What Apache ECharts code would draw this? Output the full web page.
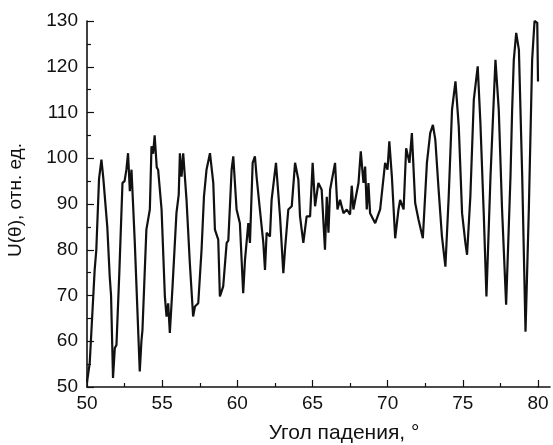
<!DOCTYPE html>
<html>
<head>
<meta charset="utf-8">
<script src="https://cdn.jsdelivr.net/npm/echarts@6/dist/echarts.min.js"></script>
<style>
  html, body { margin: 0; padding: 0; background: #fff; }
  #chart { width: 553px; height: 445px; }
</style>
</head>
<body>
<div id="chart"></div>
<script>
// Angle of incidence, degrees
const angle = [
  50.00, 50.18, 50.51, 50.62, 50.80, 50.96, 51.08, 51.18, 51.35, 51.51, 51.60, 51.73, 51.85, 51.96,
  52.15, 52.36, 52.50, 52.62, 52.73, 52.85, 52.96, 53.05, 53.18, 53.51, 53.62, 53.69, 53.95, 54.18,
  54.29, 54.40, 54.50, 54.58, 54.64, 54.73, 54.96, 55.18, 55.29, 55.40, 55.51, 55.69, 55.95, 56.10,
  56.18, 56.29, 56.40, 56.51, 56.62, 56.84, 57.06, 57.18, 57.40, 57.62, 57.78, 57.95, 58.18, 58.40,
  58.51, 58.73, 58.84, 59.06, 59.29, 59.40, 59.62, 59.73,
  59.95, 60.17, 60.39, 60.51, 60.73, 60.84, 61.02, 61.17, 61.28, 61.50, 61.73, 61.84, 61.95, 62.17,
  62.28, 62.57, 62.84, 63.06, 63.17, 63.39, 63.62, 63.84, 64.06, 64.17, 64.39, 64.61, 64.84, 65.01,
  65.17, 65.39, 65.61, 65.83, 65.95, 66.06, 66.17, 66.50, 66.66, 66.83, 67.06, 67.28, 67.50, 67.61,
  67.72, 68.06, 68.21, 68.39, 68.50, 68.61, 68.72, 68.83, 69.17, 69.50, 69.83,
  69.99, 70.11, 70.28, 70.50, 70.72, 70.83, 71.06, 71.23, 71.45, 71.61, 71.83, 72.05, 72.34, 72.61,
  72.83, 73.01, 73.17, 73.39, 73.61, 73.84, 74.06, 74.28, 74.51, 74.73, 74.95, 75.17, 75.28, 75.50,
  75.73, 75.99, 76.17, 76.39, 76.57, 76.84, 77.17, 77.39, 77.61, 77.88, 78.17, 78.28, 78.39, 78.55,
  78.73, 78.95, 79.17, 79.39, 79.61, 79.77, 79.95, 80.00
];

// Signal U(θ), relative units
const signal = [
  51.0, 55.2, 75.6, 80.0, 95.5, 99.7, 95.8, 95.7, 85.0, 74.2, 70.0, 52.0, 58.5, 59.2,
  75.0, 94.6, 95.0, 97.5, 101.1, 92.8, 97.5, 91.0, 81.5, 53.4, 60.0, 62.5, 84.4, 88.8,
  102.6, 101.0, 105.0, 104.8, 98.0, 97.5, 88.8, 69.8, 65.4, 68.3, 61.8, 72.0, 88.0, 92.0,
  101.1, 96.0, 101.1, 96.0, 90.9, 77.1, 65.4, 67.6, 68.3, 80.0, 91.6, 97.5, 101.1, 94.6,
  84.4, 82.2, 69.8, 72.0, 81.5, 82.0, 97.5, 100.4,
  88.8, 85.8, 70.5, 77.8, 85.8, 81.5, 99.0, 100.4, 96.0, 88.8, 81.5, 75.6, 83.7, 82.9,
  90.9, 99.0, 87.3, 74.9, 80.0, 88.8, 89.5, 99.0, 95.3, 87.3, 81.5, 87.3, 87.3, 99.0,
  89.5, 94.6, 93.1, 80.0, 91.6, 83.7, 93.1, 99.0, 88.8, 90.9, 88.0, 88.8, 87.7, 94.0,
  88.8, 94.6, 101.5, 94.6, 98.2, 88.8, 94.6, 88.0, 85.8, 88.8, 99.0,
  97.5, 103.7, 96.0, 82.5, 88.8, 90.9, 88.8, 102.2, 99.0, 105.5, 90.2, 86.6, 82.5, 99.0,
  105.5, 107.3, 104.0, 93.1, 82.9, 76.3, 91.6, 110.6, 116.8, 106.9, 88.0, 81.5, 78.9, 91.6,
  112.8, 120.1, 107.6, 88.0, 69.8, 96.0, 121.5, 110.6, 88.8, 68.0, 96.0, 110.6, 121.5, 127.4,
  123.7, 96.0, 62.1, 88.8, 121.5, 130.0, 129.6, 116.8
];

// Axis ticks
const xTicks = { min: 50, max: 80, step: 5 };
const yTicks = { min: 50, max: 130, step: 10 };

const xLabel = 'Угол падения, °';
const yLabel = 'U(θ), отн. ед.';

const font = 'Liberation Sans, Arial, sans-serif';
const ink = '#111111';

const chart = echarts.init(document.getElementById('chart'), null, { renderer: 'canvas' });

chart.setOption({
  animation: false,
  backgroundColor: '#ffffff',
  grid: [
    { left: 87, right: 15, top: 21, bottom: 58, containLabel: false, outerBoundsMode: 'none' },
    // short tail of the bottom axis line past the last tick
    { left: 538, right: 3, top: 21, bottom: 58, containLabel: false, outerBoundsMode: 'none' }
  ],
  xAxis: [
    {
      type: 'value',
      gridIndex: 0,
      min: xTicks.min,
      max: xTicks.max,
      interval: xTicks.step,
      name: xLabel,
      nameLocation: 'middle',
      nameGap: 36,
      nameTextStyle: { fontFamily: font, fontSize: 21, color: ink, padding: [0, 0, 0, 63] },
      axisLine: { show: true, onZero: false, lineStyle: { color: ink, width: 1.6 } },
      axisTick: { show: true, inside: true, length: 7, lineStyle: { color: ink, width: 1.2 } },
      minorTick: { show: true, splitNumber: 2, length: 4, lineStyle: { color: ink, width: 1.2 } },
      axisLabel: { fontFamily: font, fontSize: 19, color: ink, margin: 7 },
      splitLine: { show: false }
    },
    {
      type: 'value',
      gridIndex: 1,
      min: 0,
      max: 1,
      axisLine: { show: true, onZero: false, lineStyle: { color: ink, width: 1.6 } },
      axisTick: { show: false },
      axisLabel: { show: false },
      splitLine: { show: false }
    }
  ],
  yAxis: [
    {
      type: 'value',
      gridIndex: 0,
      min: yTicks.min,
      max: yTicks.max,
      interval: yTicks.step,
      name: yLabel,
      nameLocation: 'middle',
      nameGap: 62,
      nameTextStyle: { fontFamily: font, fontSize: 19, color: ink, padding: [0, 0, 0, 8] },
      axisLine: { show: true, onZero: false, lineStyle: { color: ink, width: 1.6 } },
      axisTick: { show: true, inside: true, length: 7, lineStyle: { color: ink, width: 1.2 } },
      minorTick: { show: true, splitNumber: 2, length: 4, lineStyle: { color: ink, width: 1.2 } },
      axisLabel: { fontFamily: font, fontSize: 19, color: ink, margin: 9 },
      splitLine: { show: false }
    },
    {
      type: 'value',
      gridIndex: 1,
      show: false
    }
  ],
  series: [
    {
      type: 'line',
      xAxisIndex: 0,
      yAxisIndex: 0,
      data: angle.map((a, i) => [a, signal[i]]),
      showSymbol: false,
      symbol: 'none',
      lineStyle: { color: '#111111', width: 2.2 },
      clip: true
    }
  ]
});
</script>
</body>
</html>
